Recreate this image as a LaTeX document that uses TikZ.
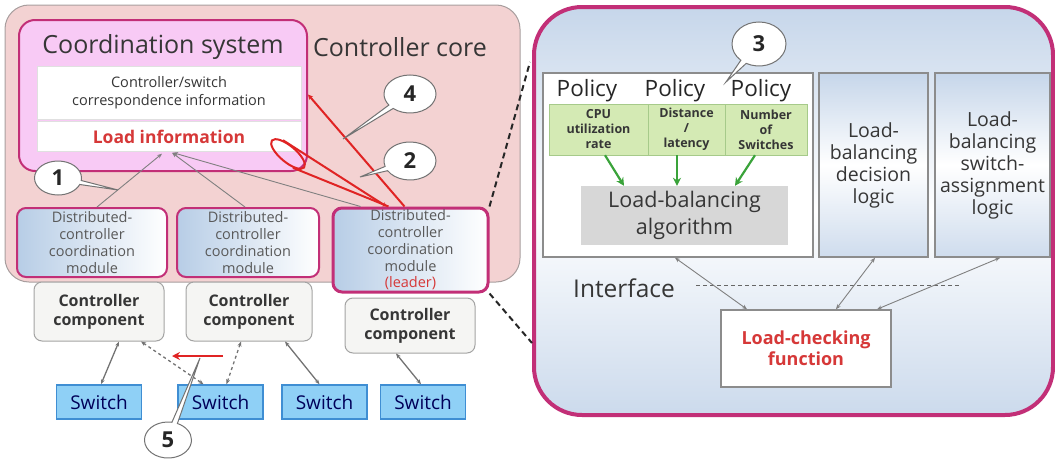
\documentclass[tikz,border=0pt]{standalone}
\usepackage{fontspec}
\setmainfont{Open Sans}
\usetikzlibrary{arrows.meta,shapes.geometric,shapes.callouts}
\definecolor{corepink}{HTML}{F3D2D2}
\definecolor{coregray}{HTML}{A89E9E}
\definecolor{cosysfill}{HTML}{F8CAF5}
\definecolor{magline}{HTML}{C22F77}
\definecolor{loadred}{HTML}{D63838}
\definecolor{lassored}{HTML}{E02424}
\definecolor{modblue}{HTML}{B7CDE6}
\definecolor{ctrlfill}{HTML}{F5F5F3}
\definecolor{boxgray}{HTML}{8C8C8C}
\definecolor{switchfill}{HTML}{8FD0F6}
\definecolor{switchline}{HTML}{3F8ED3}
\definecolor{panelblue}{HTML}{C6D6EA}
\definecolor{polgreen}{HTML}{D4EAB4}
\definecolor{polgreenline}{HTML}{A6CA8A}
\definecolor{arrowgreen}{HTML}{3AA33A}
\definecolor{algfill}{HTML}{D7D7D7}
\definecolor{textgray}{HTML}{363636}
\newcommand{\fsz}[2]{\fontsize{#1}{#2}\selectfont}

\begin{document}
\begin{tikzpicture}[x=1pt,y=-1pt,>={Stealth[length=5pt,width=4pt]},
  every node/.style={inner sep=0pt,align=center,text=textgray},
  core/.style={draw=coregray,fill=corepink,rounded corners=24,line width=1},
  cosys/.style={draw=magline,fill=cosysfill,rounded corners=16,line width=2},
  infobox/.style={fill=white,draw=black!12},
  module/.style={draw=magline,rounded corners=9,line width=2,left color=modblue,right color=white,font=\fsz{14.5}{16.8},text=black!65},
  ctrl/.style={draw=boxgray!80,fill=ctrlfill,rounded corners=8,line width=1,font=\bfseries\fsz{16}{19}},
  switch/.style={draw=switchline,fill=switchfill,line width=1.5,minimum width=85,minimum height=34,font=\fsz{19}{22},text=black!65!blue},
  panel/.style={draw=magline,line width=4,rounded corners=48,top color=panelblue,bottom color=panelblue!90,middle color=white},
  logicbox/.style={draw=boxgray,line width=1.5,top color=panelblue,bottom color=panelblue!85,middle color=white,font=\fsz{19.5}{22}},
  polgreenbox/.style={draw=polgreenline,fill=polgreen,minimum height=51,font=\bfseries\fsz{12.5}{15}},
  pollbl/.style={font=\fsz{22.5}{26},text=black!85},
  callnum/.style={ellipse callout,draw=black!55,fill=white,line width=1,minimum width=52,minimum height=38,font=\bfseries\fsz{22}{24},text=black!85,callout pointer arc=14},
  link/.style={draw=black!55,line width=1.3},
  thinlink/.style={draw=black!50,line width=0.9},
  redline/.style={draw=lassored,line width=2},
  greenarrow/.style={draw=arrowgreen,line width=2.2,->,>={Stealth[length=8pt,width=8pt]}},
  zoomline/.style={draw=black!85,line width=2,dash pattern=on 6pt off 4pt}]
  \useasboundingbox (0,0) rectangle (1055,463);

  \node[core,minimum width=515,minimum height=277] (core) at (262.5,143.5) {};
  \node[font=\fsz{25}{28}] (corelbl) at (400,47) {Controller core};
  \node[cosys,minimum width=288,minimum height=151] (cs) at (163,95.5) {};
  \node[font=\fsz{25}{28}] (cslbl) at (163,47) {Coordination system};
  \node[infobox,minimum width=264,minimum height=53,font=\fsz{14.5}{18}] (csi) at (169,93) {Controller/switch\\correspondence information};
  \node[infobox,minimum width=264,minimum height=30,font=\bfseries\fsz{17.5}{20},text=loadred] (li) at (169,136.5) {Load information};

  \node[module,minimum width=150,minimum height=69] (m1) at (92,242.5) {Distributed-\\controller\\coordination\\module};
  \node[module,minimum width=142,minimum height=69] (m2) at (248,242.5) {Distributed-\\controller\\coordination\\module};
  \node[module,line width=3,minimum width=155,minimum height=84] (m3) at (410.5,250) {Distributed-\\controller\\coordination\\module\\\textcolor{loadred}{(leader)}};

  \node[ctrl,minimum width=130,minimum height=59] (c1) at (99,311.5) {Controller\\component};
  \node[ctrl,minimum width=126,minimum height=59] (c2) at (249,311.5) {Controller\\component};
  \node[ctrl,minimum width=130,minimum height=55] (c3) at (410,325.5) {Controller\\component};

  \foreach \n/\x in {1/99,2/220.5,3/324.5,4/423}
    \node[switch] (s\n) at (\x,402) {Switch};

  \draw[link,<->] ([xshift=20pt]c1.south) -- ([xshift=2pt]s1.north);
  \draw[link,<->,dashed] ([xshift=42pt]c1.south) -- ([xshift=-17pt]s2.north);
  \draw[link,<->,dashed] ([xshift=-8pt]c2.south) -- ([xshift=6pt]s2.north);
  \draw[link,<->] ([xshift=36pt]c2.south) -- ([xshift=-5pt]s3.north);
  \draw[link,<->] ([xshift=-14pt]c3.south) -- ([xshift=-2pt]s4.north);

  \coordinate (r5a) at (223,356);
  \coordinate (r5b) at (172,356);
  \draw[redline,->,>={Stealth[length=8pt,width=8pt]}] (r5a) -- (r5b);

  \draw[thinlink,->] ([xshift=5pt]m1.north) -- ([xshift=-7pt,yshift=-2pt]li.south);
  \draw[thinlink,->] ([xshift=-3pt]m2.north) -- ([xshift=3pt,yshift=-1pt]li.south);
  \draw[thinlink,->] ([xshift=-50pt]m3.north) -- ([xshift=4pt,yshift=-1pt]li.south);

  \node[draw=lassored,line width=2,ellipse,minimum width=42,minimum height=16,rotate=-40] (lasso) at (288,154) {};
  \draw[redline,->,>={Stealth[length=4pt,width=5pt]}] (lasso.150) -- ([xshift=-24pt]m3.north);
  \draw[redline] (lasso.-30) -- ([xshift=-22pt]m3.north);
  \draw[redline,->,>={Stealth[length=5pt,width=5pt]}] ([xshift=-6pt]m3.north) -- ([yshift=1pt]cs.east);

  \node[panel,minimum width=519,minimum height=408] (pan) at (793.5,211) {};
  \coordinate (zt) at (530,62);
  \coordinate (zb) at (532,343);
  \draw[zoomline] (m3.north east) -- (zt);
  \draw[zoomline] (m3.south east) -- (zb);

  \node[fill=white,draw=boxgray,line width=1.5,minimum width=270,minimum height=184] (pol) at (678,165) {};
  \foreach \n/\x in {1/587,2/675,3/761}
    \node[pollbl] (p\n) at (\x,91) {Policy};
  \node[polgreenbox,minimum width=99] (g1) at (598.5,129.5) {CPU\\utilization\\rate};
  \node[polgreenbox,minimum width=77] (g2) at (686.5,129.5) {Distance\\/\\latency};
  \node[polgreenbox,minimum width=82] (g3) at (766,129.5) {Number\\of\\Switches};
  \node[fill=algfill,minimum width=207,minimum height=59,font=\fsz{21.5}{27}] (alg) at (684.5,215.5) {Load-balancing\\algorithm};
  \draw[greenarrow] ([xshift=6.5pt]g1.south) -- ([xshift=-60.5pt]alg.north);
  \draw[greenarrow] ([xshift=-9.5pt]g2.south) -- ([xshift=-7.5pt]alg.north);
  \draw[greenarrow] ([xshift=-11pt]g3.south) -- ([xshift=50.5pt]alg.north);

  \node[logicbox,minimum width=109,minimum height=184] (dec) at (873.5,165) {Load-\\balancing\\decision\\logic};
  \node[logicbox,minimum width=115,minimum height=184] (asg) at (992.5,165) {Load-\\balancing\\switch-\\assignment\\logic};

  \node[font=\fsz{24.5}{28}] (intf) at (624,288) {Interface};
  \coordinate (ifl) at (696,285);
  \coordinate (ifr) at (960,285);
  \draw[black!60,line width=1,dash pattern=on 4pt off 3pt] (ifl) -- (ifr);

  \node[fill=white,draw=boxgray,line width=1.5,minimum width=170,minimum height=77,font=\bfseries\fsz{18}{21},text=loadred] (lc) at (806,348.5) {Load-checking\\function};
  \draw[thinlink,<->] ([xshift=-3pt]pol.south) -- ([xshift=-59pt]lc.north);
  \draw[thinlink,<->] ([xshift=1.5pt]dec.south) -- ([xshift=30pt]lc.north);
  \draw[thinlink,<->] ([xshift=7.5pt]asg.south) -- ([xshift=71pt]lc.north);

  \node[callnum,minimum width=47,minimum height=34,callout absolute pointer={(118,190)}] (n1) at (58,178) {1};
  \node[callnum,callout absolute pointer={(360,177)}] (n2) at (410,161) {2};
  \node[callnum,minimum width=54,minimum height=44,callout absolute pointer={(726,82)}] (n3) at (759,44) {3};
  \node[callnum,callout absolute pointer={(343,139)}] (n4) at (410,94) {4};
  \node[callnum,minimum width=47,minimum height=36,callout absolute pointer={(200,358)}] (n5) at (168,440) {5};
\end{tikzpicture}
\end{document}
